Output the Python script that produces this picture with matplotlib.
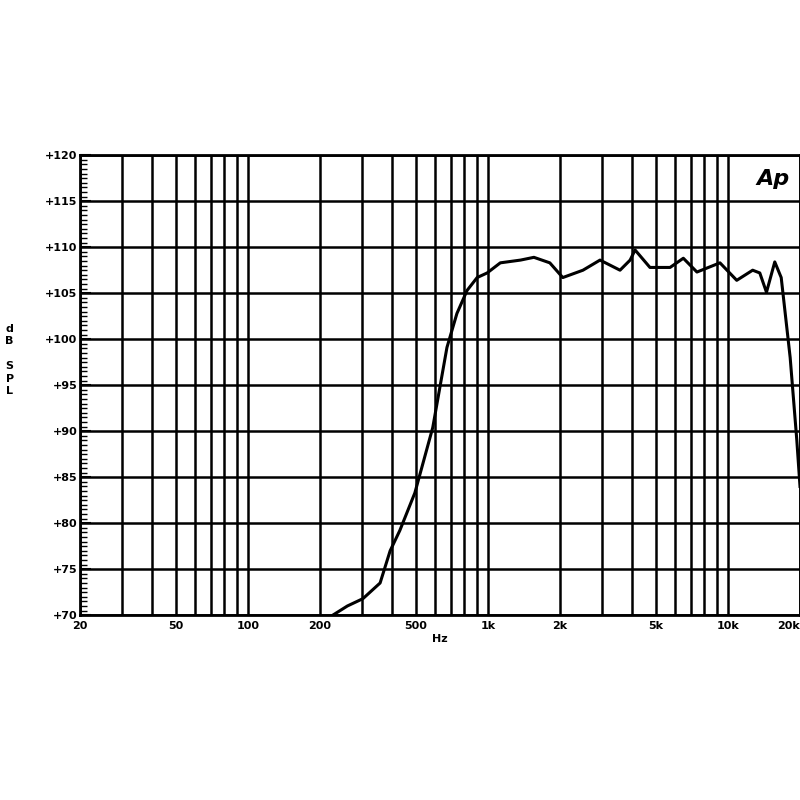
import matplotlib
matplotlib.use("Agg")
import matplotlib.pyplot as plt
import numpy as np
from matplotlib.ticker import FixedLocator, MultipleLocator, NullFormatter

freq = [200, 226, 260, 302, 356, 392, 430, 497, 590, 676, 744, 820, 903, 994, 1128, 1370, 1557,
        1814, 2054, 2493, 2936, 3557, 3920, 4110, 4740, 5750, 6530, 7440, 9280, 10900, 12700,
        13600, 14500, 15700, 16700, 18200, 19400, 20000]
spl = [68.5, 70.0, 71.0, 71.8, 73.5, 77.0, 79.2, 83.3, 90.4, 99.1, 102.8, 105.3, 106.7, 107.2, 108.3,
       108.6, 108.9, 108.3, 106.7, 107.5, 108.6, 107.5, 108.6, 109.7, 107.8, 107.8, 108.8, 107.3,
       108.3, 106.4, 107.5, 107.2, 105.1, 108.4, 106.7, 98.0, 89.0, 84.0]
xticks = [20, 50, 100, 200, 500, 1000, 2000, 5000, 10000, 20000]
xlabels = ["20", "50", "100", "200", "500", "1k", "2k", "5k", "10k", "20k"]
yticks = list(range(70, 121, 5))
ylabels = ["+%d" % v for v in yticks]

fig = plt.figure(figsize=(8, 8), dpi=100)
ax = fig.add_axes([0.1, 0.231, 0.9, 0.575])
ax.set_xscale("log")
ax.set_xlim(20, 20000)
ax.set_ylim(70, 120)
grid = [m * 10**e for e in range(1, 5) for m in range(1, 10)]
grid = [g for g in grid if 20 <= g <= 20000]
for g in grid:
    ax.axvline(g, color="black", lw=1.8, zorder=1)
for v in yticks:
    ax.axhline(v, color="black", lw=1.8, zorder=1)
ax.plot(freq, spl, color="black", lw=2.2, zorder=3, clip_on=True)
ax.xaxis.set_major_locator(FixedLocator(xticks))
ax.xaxis.set_minor_locator(FixedLocator([]))
ax.set_xticklabels(xlabels, fontsize=8, fontweight="bold")
ax.get_xticklabels()[-1].set_horizontalalignment("right")
ax.set_yticks(yticks)
ax.set_yticklabels(ylabels, fontsize=8, fontweight="bold")
ax.yaxis.set_minor_locator(MultipleLocator(0.5))
ax.tick_params(axis="y", which="minor", direction="in", length=5, width=1)
ax.tick_params(axis="y", which="major", direction="in", length=8, width=1.5, pad=2)
ax.tick_params(axis="x", which="major", length=0, pad=4)
for s in ax.spines.values():
    s.set_linewidth(2)
ax.set_xlabel("Hz", fontsize=8, fontweight="bold", labelpad=2)
fig.text(0.012, 0.55, "d\nB\n\nS\nP\nL", fontsize=8, fontweight="bold", va="center", ha="center", linespacing=1.3)
ax.text(0.985, 0.97, "Ap", transform=ax.transAxes, fontsize=16, fontweight="bold", fontstyle="italic",
        ha="right", va="top", zorder=5, bbox=dict(facecolor="white", edgecolor="none", pad=1))
fig.savefig("out.png", dpi=100)
